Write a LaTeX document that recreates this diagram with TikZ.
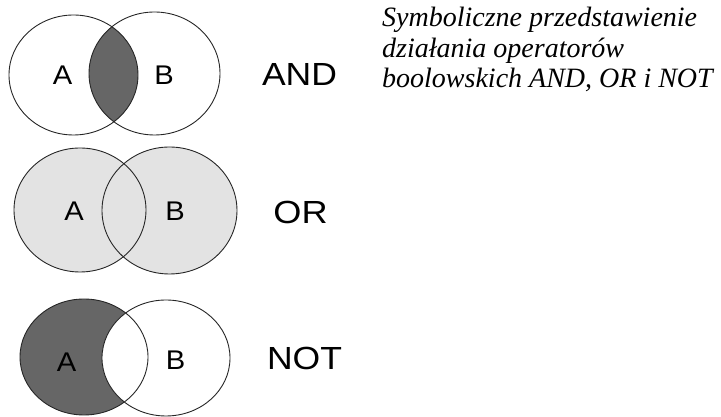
\documentclass[tikz,border=0pt]{standalone}
\usepackage{fontspec}
\setmainfont{Liberation Serif}
\setsansfont{Liberation Sans}
\begin{document}
\begin{tikzpicture}[x=1pt,y=1pt,
  outline/.style={draw=black!85, line width=0.9pt},
  darkfill/.style={fill=black!60},
  lightfill/.style={fill=black!11},
  setlabel/.style={font=\sffamily\fontsize{27}{27}\selectfont, inner sep=0pt},
  oplabel/.style={font=\sffamily\fontsize{32}{32}\selectfont, inner sep=0pt},
  caption/.style={font=\itshape\fontsize{28}{28}\selectfont, inner sep=0pt, anchor=base west}]
\useasboundingbox (0,0) rectangle (721,417);
% ---------- AND ----------
\coordinate (andA) at (73.5,342);
\coordinate (andB) at (154.5,343.5);
\begin{scope}
  \clip (andA) ellipse [x radius=64.5, y radius=60];
  \fill[darkfill] (andB) ellipse [x radius=65.5, y radius=61.5];
\end{scope}
\draw[outline] (andA) ellipse [x radius=64.5, y radius=60];
\draw[outline] (andB) ellipse [x radius=65.5, y radius=61.5];
\node[setlabel] (andAl) at (62.5,342) {\scalebox{1.08}[1]{A}};
\node[setlabel] (andBl) at (164,342) {\scalebox{1.08}[1]{B}};
\node[oplabel] (andop) at (299.5,342.5) {\scalebox{1.11}[1]{AND}};
% ---------- OR ----------
\coordinate (orA) at (80,207);
\coordinate (orB) at (169.5,206.5);
\fill[lightfill] (orA) ellipse [x radius=66, y radius=62];
\fill[lightfill] (orB) ellipse [x radius=67.5, y radius=63.5];
\draw[outline] (orA) ellipse [x radius=66, y radius=62];
\draw[outline] (orB) ellipse [x radius=67.5, y radius=63.5];
\node[setlabel] (orAl) at (74,206) {\scalebox{1.08}[1]{A}};
\node[setlabel] (orBl) at (175,206) {\scalebox{1.08}[1]{B}};
\node[oplabel] (orop) at (300.5,205) {\scalebox{1.13}[1]{OR}};
% ---------- NOT ----------
\coordinate (notA) at (84,60);
\coordinate (notB) at (166,59);
\fill[darkfill] (notA) ellipse [x radius=64, y radius=58];
\fill[white] (notB) ellipse [x radius=64, y radius=58];
\draw[outline] (notA) ellipse [x radius=64, y radius=58];
\draw[outline] (notB) ellipse [x radius=64, y radius=58];
\node[setlabel] (notAl) at (66.5,55) {\scalebox{1.08}[1]{A}};
\node[setlabel] (notBl) at (175.5,57) {\scalebox{1.08}[1]{B}};
\node[oplabel] (notop) at (304.5,59) {\scalebox{1.11}[1]{NOT}};
% ---------- caption ----------
\node[caption] (cap1) at (382,390) {Symboliczne przedstawienie};
\node[caption] (cap2) at (382,359.5) {działania operatorów};
\node[caption] (cap3) at (382,329) {boolowskich AND, OR i NOT};
\end{tikzpicture}
\end{document}
